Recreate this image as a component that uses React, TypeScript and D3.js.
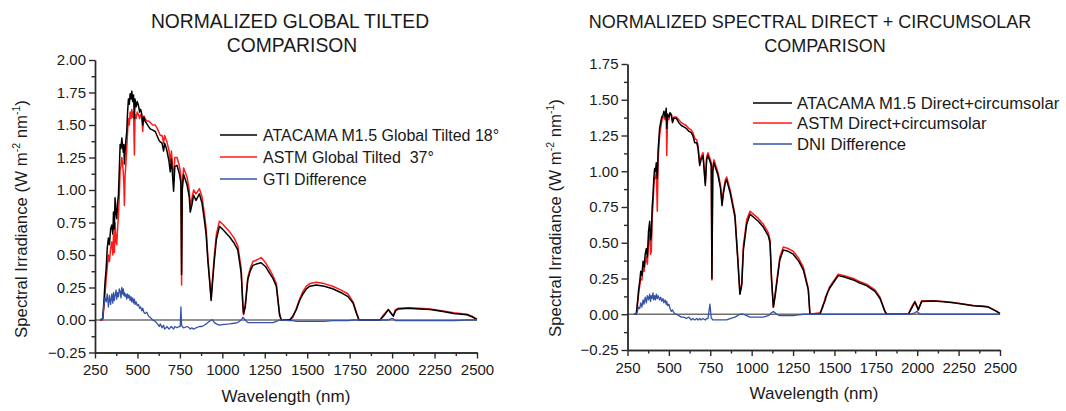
import React, { useEffect, useRef } from 'react';
import * as d3 from 'd3';

// ---- Global tilted panel (left) ----
const gtiWavelength = [
  280, 295, 303, 309, 316, 322, 329, 335, 342, 349, 355, 359, 364, 368, 374, 378, 383, 388, 393, 398,
  403, 408, 413, 417, 420, 423, 427, 432, 437, 442, 447, 452, 457, 462, 467, 472, 477, 482, 486, 492,
  499, 506, 513, 519, 526, 531, 538, 545, 555, 565, 575, 590, 605, 618, 628, 634, 645, 654, 660, 668,
  674, 686, 693, 700, 713, 720, 733, 746, 752, 756, 760, 764, 772, 792, 805, 811, 820, 831, 845, 865,
  880, 894, 905, 915, 925, 934, 943, 953, 965, 983, 1000, 1042, 1070, 1091, 1111, 1121, 1125, 1135, 1150, 1165,
  1180, 1200, 1229, 1255, 1278, 1298, 1318, 1337, 1347, 1397, 1415, 1436, 1455, 1475, 1495, 1515, 1554, 1600, 1650, 1700,
  1740, 1770, 1790, 1805, 1928, 1950, 1978, 1995, 2007, 2020, 2037, 2096, 2160, 2224, 2300, 2362, 2441, 2470, 2500,
];
const gtiAtacama = [
  0, 0.01, 0.15, 0.29, 0.4, 0.55, 0.63, 0.58, 0.7, 0.73, 0.66, 0.83, 0.7, 0.94, 0.82, 0.78, 0.9, 0.96, 1.15, 1.35,
  1.32, 1.4, 1.33, 1.29, 1.35, 1.2, 1.3, 1.38, 1.45, 1.6, 1.7, 1.66, 1.74, 1.7, 1.76, 1.68, 1.73, 1.55, 1.7, 1.64,
  1.68, 1.65, 1.6, 1.62, 1.58, 1.5, 1.56, 1.53, 1.51, 1.49, 1.47, 1.46, 1.45, 1.41, 1.38, 1.37, 1.36, 1.3, 1.36, 1.33,
  1.3, 1.22, 1.14, 1.24, 0.99, 1.18, 1.19, 1.13, 1.09, 1.05, 0.35, 1.0, 1.12, 1.04, 0.95, 0.83, 0.88, 0.96, 0.92, 0.97,
  0.9, 0.77, 0.65, 0.45, 0.3, 0.15, 0.3, 0.46, 0.62, 0.72, 0.7, 0.64, 0.59, 0.54, 0.36, 0.12, 0.05, 0.1, 0.31, 0.38,
  0.42, 0.43, 0.44, 0.41, 0.36, 0.32, 0.26, 0.04, 0, 0, 0.03, 0.08, 0.15, 0.2, 0.24, 0.26, 0.27, 0.26, 0.24, 0.21,
  0.18, 0.13, 0.05, 0, 0, 0.03, 0.08, 0.05, 0.03, 0.07, 0.085, 0.09, 0.085, 0.08, 0.065, 0.05, 0.04, 0.025, 0.005,
];
const gtiAstm = [
  0, 0, 0.1, 0.2, 0.32, 0.4, 0.5, 0.45, 0.55, 0.6, 0.5, 0.65, 0.52, 0.75, 0.6, 0.58, 0.7, 0.8, 0.95, 1.15,
  1.18, 1.25, 1.2, 1.12, 1.05, 0.88, 1.1, 1.2, 1.32, 1.45, 1.55, 1.5, 1.6, 1.55, 1.62, 1.56, 1.6, 1.27, 1.58, 1.55,
  1.6, 1.58, 1.55, 1.58, 1.56, 1.45, 1.57, 1.55, 1.53, 1.53, 1.52, 1.5, 1.5, 1.47, 1.44, 1.42, 1.42, 1.36, 1.42, 1.39,
  1.37, 1.3, 1.22, 1.3, 1.07, 1.25, 1.25, 1.19, 1.15, 1.1, 0.27, 1.05, 1.17, 1.1, 1.0, 0.88, 0.93, 1.0, 0.97, 1.01,
  0.95, 0.82, 0.7, 0.48, 0.32, 0.17, 0.33, 0.5, 0.66, 0.76, 0.74, 0.68, 0.63, 0.57, 0.4, 0.1, 0.04, 0.12, 0.33, 0.4,
  0.45, 0.46, 0.48, 0.44, 0.39, 0.34, 0.28, 0.05, 0, 0, 0.02, 0.09, 0.16, 0.22, 0.26, 0.28, 0.29, 0.28, 0.26, 0.23,
  0.2, 0.14, 0.06, 0, 0, 0.04, 0.08, 0.05, 0.03, 0.08, 0.09, 0.095, 0.09, 0.085, 0.07, 0.055, 0.045, 0.03, 0.005,
];
const gtiDifference = [
  0, 0.01, 0.12, 0.17, 0.14, 0.2, 0.1, 0.19, 0.12, 0.2, 0.13, 0.21, 0.15, 0.19, 0.23, 0.16, 0.21, 0.18, 0.24, 0.22,
  0.17, 0.25, 0.2, 0.24, 0.19, 0.21, 0.18, 0.2, 0.16, 0.2, 0.17, 0.19, 0.15, 0.18, 0.14, 0.17, 0.13, 0.16, 0.12, 0.14,
  0.11, 0.12, 0.09, 0.1, 0.07, 0.09, 0.06, 0.05, 0.06, 0.03, 0.02, 0, -0.01, -0.03, -0.05, -0.03, -0.06, -0.04, -0.07, -0.06,
  -0.05, -0.07, -0.06, -0.05, -0.07, -0.05, -0.06, -0.05, -0.05, 0.1, -0.04, -0.05, -0.06, -0.05, -0.06, -0.07, -0.06, -0.07, -0.06, -0.05,
  -0.05, -0.04, -0.03, -0.02, -0.01, 0, 0, -0.02, -0.03, -0.04, -0.035, -0.03, -0.025, -0.02, 0, 0.02, 0.015, 0, -0.02, -0.02,
  -0.02, -0.02, -0.02, -0.02, -0.02, -0.02, -0.01, 0, 0, -0.005, -0.005, -0.01, -0.01, -0.01, -0.01, -0.01, -0.01, -0.01, -0.005, -0.005,
  -0.005, 0, 0, 0, 0, 0, 0, 0.01, 0.01, -0.005, -0.005, -0.005, -0.005, -0.005, -0.005, -0.005, 0, 0, 0,
];

// ---- Direct + circumsolar panel (right) ----
const dniWavelength = [
  290, 303, 310, 317, 324, 330, 337, 344, 350, 357, 364, 370, 377, 384, 389, 394, 399, 404, 409, 414,
  419, 424, 430, 435, 444, 450, 457, 464, 470, 477, 484, 487, 492, 500, 507, 515, 522, 530, 545, 560,
  575, 590, 605, 620, 635, 645, 656, 668, 676, 686, 694, 706, 720, 728, 736, 748, 756, 760, 765, 772,
  797, 812, 821, 830, 841, 849, 870, 899, 915, 929, 940, 950, 970, 990, 1010, 1040, 1070, 1100, 1111, 1120,
  1131, 1141, 1151, 1170, 1191, 1220, 1251, 1285, 1312, 1342, 1352, 1413, 1430, 1445, 1453, 1470, 1493, 1523, 1560, 1614,
  1650, 1694, 1745, 1775, 1805, 1815, 1946, 1970, 1986, 2000, 2006, 2027, 2097, 2160, 2218, 2280, 2339, 2400, 2429, 2480,
  2500,
];
const dniAtacama = [
  0, 0, 0.08, 0.17, 0.23, 0.3, 0.27, 0.37, 0.33, 0.42, 0.46, 0.4, 0.58, 0.65, 0.52, 0.55, 0.75, 0.83, 0.95, 1.02,
  1.0, 1.06, 0.95, 1.15, 1.3, 1.34, 1.38, 1.39, 1.42, 1.38, 1.44, 1.3, 1.4, 1.38, 1.41, 1.39, 1.34, 1.37, 1.37, 1.34,
  1.32, 1.31, 1.3, 1.28, 1.27, 1.25, 1.2, 1.2, 1.16, 1.04, 1.08, 1.11, 0.9, 1.08, 1.11, 1.07, 1.04, 0.25, 1.0, 1.06,
  0.97, 0.88, 0.76, 0.85, 0.92, 0.94, 0.85, 0.68, 0.4, 0.14, 0.2, 0.45, 0.63, 0.7, 0.68, 0.65, 0.61, 0.55, 0.5, 0.25,
  0.05, 0.12, 0.21, 0.38, 0.45, 0.44, 0.42, 0.37, 0.31, 0.17, 0, 0, 0.06, 0.1, 0.14, 0.18, 0.22, 0.27, 0.26, 0.24,
  0.22, 0.2, 0.16, 0.11, 0.02, 0, 0, 0.05, 0.085, 0.05, 0.03, 0.09, 0.093, 0.087, 0.08, 0.07, 0.06, 0.055, 0.05, 0.02,
  0.005,
];
const dniAstm = [
  0, 0, 0.06, 0.14, 0.2, 0.25, 0.24, 0.32, 0.3, 0.36, 0.4, 0.35, 0.5, 0.56, 0.42, 0.44, 0.68, 0.76, 0.9, 0.96,
  0.95, 1.0, 0.72, 1.08, 1.25, 1.3, 1.35, 1.38, 1.38, 1.36, 1.41, 1.11, 1.38, 1.36, 1.4, 1.4, 1.35, 1.38, 1.38, 1.36,
  1.34, 1.33, 1.32, 1.3, 1.29, 1.27, 1.23, 1.22, 1.18, 1.06, 1.1, 1.13, 0.92, 1.1, 1.13, 1.09, 1.06, 0.24, 1.03, 1.08,
  0.99, 0.9, 0.78, 0.87, 0.94, 0.96, 0.87, 0.7, 0.42, 0.15, 0.22, 0.48, 0.66, 0.72, 0.7, 0.67, 0.63, 0.57, 0.52, 0.24,
  0.05, 0.14, 0.23, 0.4, 0.47, 0.46, 0.44, 0.39, 0.33, 0.18, 0, 0.01, 0.05, 0.12, 0.13, 0.19, 0.23, 0.28, 0.27, 0.25,
  0.23, 0.21, 0.17, 0.12, 0.02, 0, 0, 0.06, 0.09, 0.05, 0.03, 0.095, 0.095, 0.09, 0.083, 0.072, 0.062, 0.057, 0.052, 0.02,
  0.005,
];
const dniDifference = [
  0, 0, 0.02, 0.05, 0.04, 0.08, 0.05, 0.1, 0.07, 0.12, 0.08, 0.13, 0.1, 0.14, 0.09, 0.13, 0.11, 0.15, 0.1, 0.13,
  0.1, 0.14, 0.11, 0.13, 0.1, 0.12, 0.09, 0.11, 0.08, 0.1, 0.07, 0.09, 0.06, 0.07, 0.04, 0.02, 0.03, 0.01, 0, -0.01,
  -0.02, -0.02, -0.03, -0.02, -0.04, -0.03, -0.04, -0.03, -0.04, -0.03, -0.04, -0.03, -0.04, -0.03, -0.03, 0.07, -0.03, -0.03, -0.04, -0.04,
  -0.04, -0.04, -0.04, -0.04, -0.04, -0.04, -0.03, -0.02, -0.01, 0, 0, 0, -0.01, -0.02, -0.02, -0.02, -0.02, -0.01, 0, 0.01,
  0.02, 0.01, 0, -0.01, -0.01, -0.01, -0.01, -0.005, 0, 0, 0, 0, 0, 0, 0, 0, 0, 0, 0, 0,
  0, 0, 0, 0, 0, 0, 0, 0.005, 0.01, 0.02, 0.01, 0, 0, 0, 0, 0, 0, 0, 0, 0,
  0,
];

const xTicks = [250, 500, 750, 1000, 1250, 1500, 1750, 2000, 2250, 2500];
const gtiYTicks = [-0.25, 0, 0.25, 0.5, 0.75, 1.0, 1.25, 1.5, 1.75, 2.0];
const dniYTicks = [-0.25, 0, 0.25, 0.5, 0.75, 1.0, 1.25, 1.5, 1.75];

const gtiLegend = ['ATACAMA M1.5 Global Tilted 18°', 'ASTM Global Tilted  37°', 'GTI Difference'];
const dniLegend = ['ATACAMA M1.5 Direct+circumsolar', 'ASTM Direct+circumsolar', 'DNI Difference'];
const seriesColors = ['#000000', '#ff1a1a', '#3552a8'];

const FONT = '"Liberation Sans", Arial, Helvetica, sans-serif';

const leftPanel = {
  title: ['NORMALIZED GLOBAL TILTED', 'COMPARISON'],
  titleX: [290, 292],
  titleY: [28, 52],
  titleSize: 19.3,
  xRange: [95, 477],
  yDomain: [-0.25, 2.0],
  yRange: [352.5, 60],
  yTicks: gtiYTicks,
  wavelength: gtiWavelength,
  series: [gtiAtacama, gtiAstm, gtiDifference],
  legend: gtiLegend,
  legendSize: 16,
  legendX: [220, 257, 263],
  legendY: [135, 157, 179],
  yLabelPos: [27, 219],
  xLabelPos: [286, 402],
};

const rightPanel = {
  title: ['NORMALIZED SPECTRAL DIRECT + CIRCUMSOLAR', 'COMPARISON'],
  titleX: [810, 825],
  titleY: [28, 52],
  titleSize: 18,
  xRange: [627.5, 1000],
  yDomain: [-0.25, 1.75],
  yRange: [350, 64],
  yTicks: dniYTicks,
  wavelength: dniWavelength,
  series: [dniAtacama, dniAstm, dniDifference],
  legend: dniLegend,
  legendSize: 16.7,
  legendX: [753, 792, 797],
  legendY: [103, 123, 144],
  yLabelPos: [561, 218],
  xLabelPos: [814, 399],
};

function drawPanel(root, p) {
  const x = d3.scaleLinear().domain([250, 2500]).range(p.xRange);
  const y = d3.scaleLinear().domain(p.yDomain).range(p.yRange);
  const g = root.append('g').attr('font-family', FONT).attr('fill', '#1a1a1a');

  p.title.forEach((t, i) => {
    g.append('text')
      .attr('x', p.titleX[i])
      .attr('y', p.titleY[i])
      .attr('text-anchor', 'middle')
      .attr('font-size', p.titleSize)
      .text(t);
  });

  // zero reference line
  g.append('line')
    .attr('x1', x(250)).attr('x2', x(2500))
    .attr('y1', y(0)).attr('y2', y(0))
    .attr('stroke', '#6f6f6f')
    .attr('stroke-width', 1.3);

  const line = d3.line<number>()
    .x((_, i) => x(p.wavelength[i]))
    .y((d) => y(d));

  // red under black, blue on top
  [1, 0, 2].forEach((k) => {
    g.append('path')
      .datum(p.series[k])
      .attr('d', line)
      .attr('fill', 'none')
      .attr('stroke', seriesColors[k])
      .attr('stroke-width', k === 2 ? 1.3 : 1.5)
      .attr('stroke-linejoin', 'round');
  });

  // minor ticks
  const xMinor = d3.range(375, 2500, 250);
  const yMinor = d3.range(p.yDomain[0] + 0.125, p.yDomain[1], 0.25);
  g.append('g')
    .attr('transform', `translate(0,${y(p.yDomain[0])})`)
    .call(d3.axisBottom(x).tickValues(xMinor).tickSize(3.5).tickFormat(() => '').tickSizeOuter(0));
  g.append('g')
    .attr('transform', `translate(${x(250)},0)`)
    .call(d3.axisLeft(y).tickValues(yMinor).tickSize(3.5).tickFormat(() => '').tickSizeOuter(0));

  const xAxis = g.append('g')
    .attr('transform', `translate(0,${y(p.yDomain[0])})`)
    .call(d3.axisBottom(x).tickValues(xTicks).tickSize(6).tickPadding(6).tickSizeOuter(0).tickFormat(d3.format('d')));
  const yAxis = g.append('g')
    .attr('transform', `translate(${x(250)},0)`)
    .call(d3.axisLeft(y).tickValues(p.yTicks).tickSize(6).tickPadding(3).tickSizeOuter(0).tickFormat(d3.format('.2f')));

  g.selectAll('.domain, .tick line').attr('stroke', '#2a2a2a').attr('stroke-width', 1.4);
  [xAxis, yAxis].forEach((a) => {
    a.selectAll('text').attr('font-family', FONT).attr('font-size', 15).attr('fill', '#1a1a1a');
  });

  // axis titles
  g.append('text')
    .attr('x', p.xLabelPos[0])
    .attr('y', p.xLabelPos[1])
    .attr('text-anchor', 'middle')
    .attr('font-size', 17)
    .text('Wavelength (nm)');

  const yl = g.append('text')
    .attr('transform', `translate(${p.yLabelPos[0]},${p.yLabelPos[1]}) rotate(-90)`)
    .attr('text-anchor', 'middle')
    .attr('font-size', 16.8);
  yl.append('tspan').text('Spectral Irradiance (W m');
  yl.append('tspan').attr('font-size', 10.5).attr('dy', -7).text('-2');
  yl.append('tspan').attr('dy', 7).text(' nm');
  yl.append('tspan').attr('font-size', 10.5).attr('dy', -7).text('-1');
  yl.append('tspan').attr('dy', 7).text(')');

  // legend
  p.legend.forEach((label, i) => {
    g.append('line')
      .attr('x1', p.legendX[0]).attr('x2', p.legendX[1])
      .attr('y1', p.legendY[i]).attr('y2', p.legendY[i])
      .attr('stroke', seriesColors[i])
      .attr('stroke-width', 1.3);
    g.append('text')
      .attr('x', p.legendX[2])
      .attr('y', p.legendY[i])
      .attr('dy', '0.35em')
      .attr('font-size', p.legendSize)
      .style('white-space', 'pre')
      .text(label);
  });
}

export default function App() {
  const ref = useRef<SVGSVGElement>(null);

  useEffect(() => {
    const svg = d3.select(ref.current);
    svg.selectAll('*').remove();
    drawPanel(svg, leftPanel);
    drawPanel(svg, rightPanel);
  }, []);

  return (
    <svg
      ref={ref}
      width={1066}
      height={411}
      style={{ position: 'absolute', left: 0, top: 0, background: '#ffffff' }}
    />
  );
}
